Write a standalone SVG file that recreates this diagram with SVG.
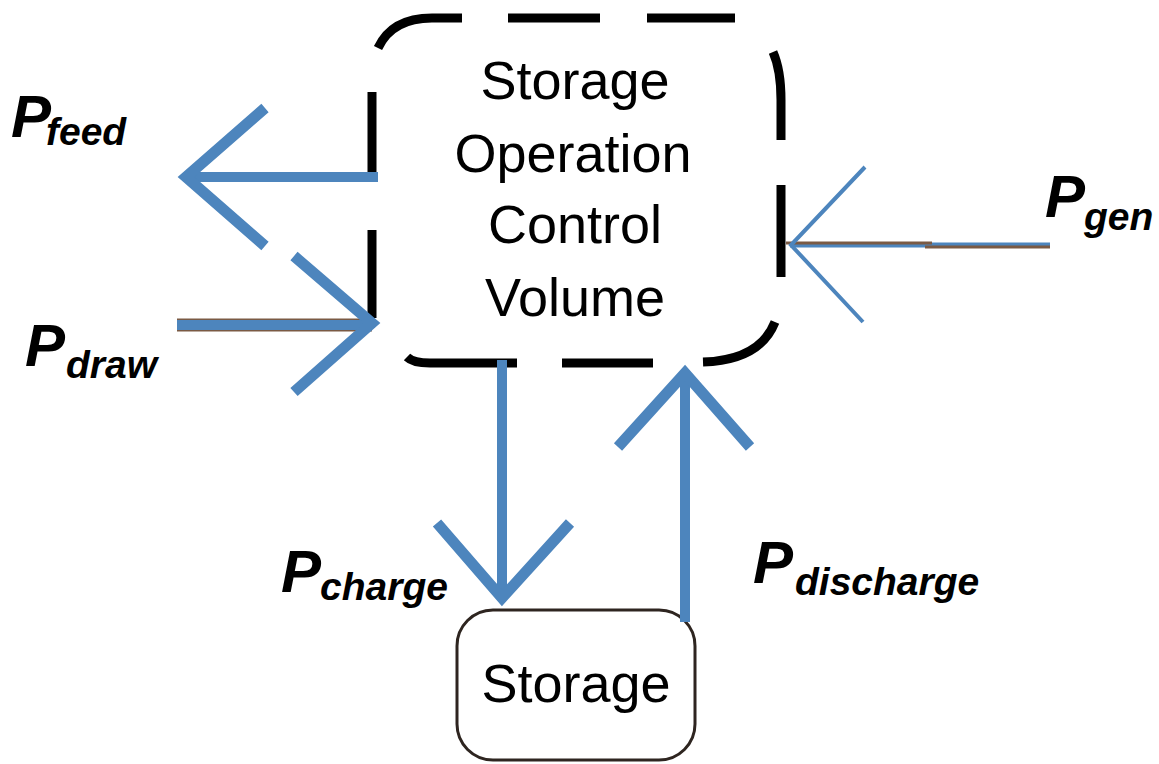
<svg xmlns="http://www.w3.org/2000/svg" width="1159" height="764" viewBox="0 0 1159 764">
<style>
.box{fill:none;stroke:#000;stroke-width:9;stroke-linecap:butt}
.store{fill:#fff;stroke:#2e2520;stroke-width:3}
.t{font-family:"Liberation Sans",Arial,sans-serif;font-size:54px;fill:#000;text-anchor:middle}
.shaft{fill:none;stroke:#4d85bd;stroke-width:10}
.head{fill:none;stroke:#4d85bd;stroke-width:11;stroke-linejoin:miter;stroke-miterlimit:10}
.thin{fill:none;stroke:#4d85bd;stroke-width:4;stroke-linejoin:miter}
.lbl{font-family:"Liberation Sans",Arial,sans-serif;font-weight:bold;font-style:italic;fill:#000}
.P{font-size:60px}
.sub{font-size:39px}
</style>
<rect width="1159" height="764" fill="#fff"/>
<g id="node-control-volume">
<path class="box" d="M378,48 Q392,18 432,18 L462,18 M508,18 L600,18 M647,18 L735,18 M773,52 Q781,70 781,100 L781,140 M781,185 L781,277 M775,322 Q760,360 703,362 M562,363 L653,363 M407,357 Q413,363 430,363 L517,363 M372,92 L372,180 M372,230 L372,318"/>
<text class="t" x="575" y="99">Storage</text>
<text class="t" x="573" y="172">Operation</text>
<text class="t" x="575" y="243">Control</text>
<text class="t" x="575" y="316">Volume</text>
</g>
<g id="node-storage">
<rect class="store" x="457" y="610" width="238" height="150" rx="36" ry="36"/>
<text class="t" x="576" y="702">Storage</text>
</g>
<g id="connectors">
<g id="arrow-feed">
<path class="shaft" d="M378,177 L186,177"/>
<path class="head" d="M265,108 L186,177 L265,246"/>
</g>
<g id="arrow-draw">
<path fill="none" stroke="#7a5a44" stroke-width="13" d="M177,325 L372,325"/>
<path class="shaft" d="M177,325 L372,325" stroke-width="9"/>
<path class="head" d="M294,256 L372,323 L294,392"/>
</g>
<g id="arrow-gen">
<path fill="none" stroke="#4d85bd" stroke-width="5" d="M790,245 L1050,245"/>
<path fill="none" stroke="#7a5a44" stroke-width="3" d="M786,243 L932,243 M925,247 L1050,247"/>
<path class="thin" d="M865,167 L791,245 L863,322"/>
</g>
<g id="arrow-charge">
<path class="shaft" d="M502,360 L502,598"/>
<path class="head" d="M437,523 L502,598 L570,523"/>
</g>
<g id="arrow-discharge">
<path class="shaft" d="M685,622 L685,373"/>
<path class="head" d="M618,447 L685,373 L750,447"/>
</g>
</g>
<g id="labels">
<g id="label-feed"><text class="lbl P" x="11" y="137">P</text><text class="lbl sub" x="46" y="145">feed</text></g>
<g id="label-draw"><text class="lbl P" x="25" y="366">P</text><text class="lbl sub" x="66" y="378">draw</text></g>
<g id="label-gen"><text class="lbl P" x="1045" y="217">P</text><text class="lbl sub" x="1084" y="230">gen</text></g>
<g id="label-charge"><text class="lbl P" x="281" y="592">P</text><text class="lbl sub" x="320" y="600">charge</text></g>
<g id="label-discharge"><text class="lbl P" x="753" y="583">P</text><text class="lbl sub" x="795" y="595">discharge</text></g>
</g>
</svg>
